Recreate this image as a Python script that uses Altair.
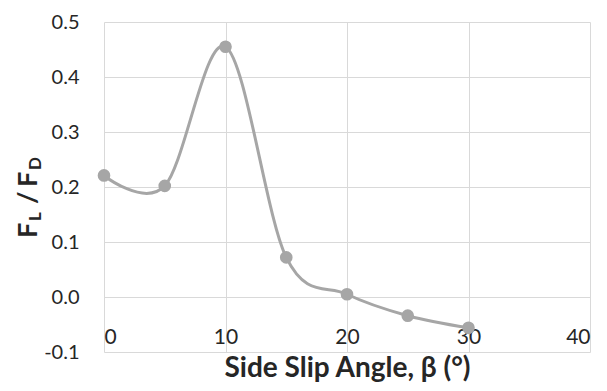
import altair as alt
import pandas as pd

beta = [0, 5, 10, 15, 20, 25, 30]
ratio = [0.221, 0.202, 0.455, 0.072, 0.005, -0.034, -0.056]
x_ticks = [0, 10, 20, 30, 40]
y_ticks = [-0.1, 0.0, 0.1, 0.2, 0.3, 0.4, 0.5]

df = pd.DataFrame({"beta": beta, "ratio": ratio})
one = pd.DataFrame({"k": [0]})

FONT = "Lato"
TXT = "#262626"
GRAY = "#a6a6a6"
GRID = "#d9d9d9"

x = alt.X("beta:Q", scale=alt.Scale(domain=[0, 40], nice=False),
          axis=alt.Axis(values=x_ticks, format="d", ticks=False, domain=False,
                        grid=True, gridColor=GRID, gridWidth=1,
                        labelFontSize=21, labelColor=TXT, labelFont=FONT,
                        labelPadding=-2, offset=-24,
                        title="Side Slip Angle, β (°)", titleFont=FONT,
                        titleFontSize=28, titleFontWeight="bold",
                        titleColor=TXT, titlePadding=7))
y = alt.Y("ratio:Q", scale=alt.Scale(domain=[-0.1, 0.5], nice=False, zero=False),
          axis=alt.Axis(values=y_ticks, ticks=False, domain=False,
                        labelExpr="datum.value < -0.0001 ? '-' + format(-datum.value, '.1f') : format(datum.value, '.1f')",
                        grid=True, gridColor=GRID, gridWidth=1,
                        labelFontSize=20, labelColor=TXT, labelFont=FONT,
                        labelPadding=25, title=None))

line = alt.Chart(df).mark_line(interpolate="cardinal", tension=0, color=GRAY,
                               strokeWidth=3).encode(x=x, y=y)
pts = alt.Chart(df).mark_point(filled=True, size=160, color=GRAY,
                               opacity=1).encode(x="beta:Q", y="ratio:Q")


def piece(txt, px, py, size):
    return alt.Chart(one).mark_text(text=txt, angle=270, align="left",
                                    baseline="alphabetic", font=FONT,
                                    fontWeight="bold", fontSize=size,
                                    color=TXT).encode(x=alt.value(px), y=alt.value(py))


title_parts = [
    piece("F", -67, 216, 27),
    piece("L", -63, 199, 17),
    piece("/", -67, 182, 27),
    piece("F", -67, 165, 27),
    piece("D", -63, 148, 17),
]

chart = alt.layer(line, pts, *title_parts).properties(
    width=486, height=330,
    autosize=alt.AutoSizeParams(type="none"),
    padding={"left": 96, "top": 14, "right": 9, "bottom": 31},
).configure_view(stroke=None)

chart.save("out.html", embed_options={"renderer": "svg", "actions": False})
